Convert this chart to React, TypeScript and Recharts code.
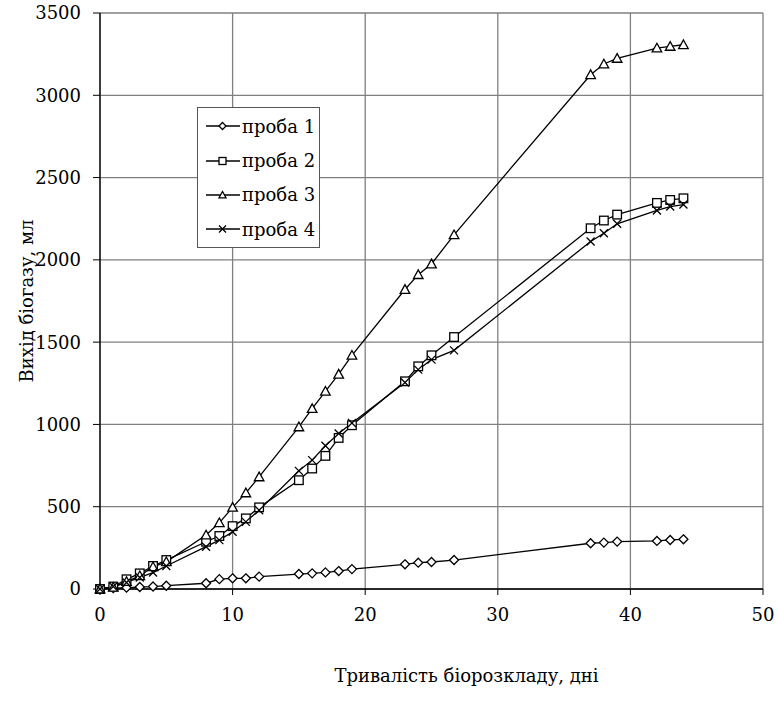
import { LineChart, Line, XAxis, YAxis, CartesianGrid, Legend, Label } from 'recharts';

const DAYS = [0, 1, 2, 3, 4, 5, 8, 9, 10, 11, 12, 15, 16, 17, 18, 19, 23, 24, 25, 26.7, 37, 38, 39, 42, 43, 44];
const PROBA_1 = [0, 5, 8, 12, 15, 20, 35, 60, 65, 65, 75, 91, 95, 101, 109, 121, 150, 160, 164, 176, 278, 282, 288, 292, 298, 302];
const PROBA_2 = [0, 15, 59, 95, 140, 176, 287, 322, 382, 429, 496, 661, 732, 809, 918, 995, 1262, 1353, 1420, 1531, 2192, 2239, 2275, 2346, 2364, 2374];
const PROBA_3 = [0, 10, 45, 80, 135, 165, 328, 402, 496, 584, 681, 985, 1096, 1201, 1305, 1420, 1820, 1910, 1975, 2152, 3125, 3190, 3224, 3287, 3297, 3307];
const PROBA_4 = [0, 15, 40, 70, 100, 140, 257, 297, 348, 408, 479, 718, 783, 870, 945, 1009, 1255, 1333, 1394, 1450, 2112, 2162, 2219, 2300, 2324, 2336];

const SERIES_NAMES = ['проба 1', 'проба 2', 'проба 3', 'проба 4'];
const X_TICKS = [0, 10, 20, 30, 40, 50];
const Y_TICKS = [0, 500, 1000, 1500, 2000, 2500, 3000, 3500];

const X_TITLE = 'Тривалість біорозкладу, дні';
const Y_TITLE = 'Вихід біогазу, мл';

const FONT = "DejaVu Serif, serif";

const data = DAYS.map((d, i) => ({
  day: d,
  p1: PROBA_1[i],
  p2: PROBA_2[i],
  p3: PROBA_3[i],
  p4: PROBA_4[i],
}));

type Shape = 'diamond' | 'square' | 'triangle' | 'cross';
const SHAPES: Shape[] = ['diamond', 'square', 'triangle', 'cross'];

function Marker({ shape, cx, cy, r }: { shape: Shape; cx: number; cy: number; r: number }) {
  const common = { fill: '#fff', stroke: '#000', strokeWidth: 1.3 };
  if (shape === 'diamond') {
    return <path d={`M${cx},${cy - r}L${cx + r},${cy}L${cx},${cy + r}L${cx - r},${cy}Z`} {...common} />;
  }
  if (shape === 'square') {
    return <rect x={cx - r} y={cy - r} width={2 * r} height={2 * r} {...common} />;
  }
  if (shape === 'triangle') {
    return <path d={`M${cx},${cy - r}L${cx + r},${cy + r * 0.8}L${cx - r},${cy + r * 0.8}Z`} {...common} />;
  }
  return (
    <path
      d={`M${cx - r},${cy - r}L${cx + r},${cy + r}M${cx + r},${cy - r}L${cx - r},${cy + r}`}
      stroke="#000"
      strokeWidth={1.3}
      fill="none"
    />
  );
}

const makeDot = (shape: Shape, r: number) => (props: any) => {
  const { cx, cy, index } = props;
  if (cx == null || cy == null) return <g key={`${shape}-${index}`} />;
  return (
    <g key={`${shape}-${index}`}>
      <Marker shape={shape} cx={cx} cy={cy} r={r} />
    </g>
  );
};

function LegendBox() {
  return (
    <div
      style={{
        boxSizing: 'border-box',
        width: 123,
        border: '1px solid #555',
        background: '#fff',
        padding: '1px 0 0 8px',
        fontFamily: FONT,
        fontSize: 18,
        color: '#000',
      }}
    >
      {SERIES_NAMES.map((name, i) => (
        <div key={name} style={{ display: 'flex', alignItems: 'center', height: 34.4 }}>
          <svg width={35} height={14} style={{ display: 'block' }}>
            <line x1={0} y1={7} x2={34} y2={7} stroke="#000" strokeWidth={1.3} />
            <Marker shape={SHAPES[i]} cx={16.5} cy={7} r={3.5} />
          </svg>
          <span style={{ marginLeft: 1, whiteSpace: 'nowrap' }}>{name}</span>
        </div>
      ))}
    </div>
  );
}

export default function App() {
  const tick = { fontSize: 18, fill: '#000', fontFamily: FONT };
  return (
    <div style={{ position: 'absolute', left: 0, top: 0, background: '#fff', fontFamily: FONT }}>
      <LineChart width={778} height={701} data={data} margin={{ top: 13, right: 15, bottom: 0, left: 0 }}>
        <CartesianGrid stroke="#808080" strokeWidth={1.3} vertical horizontal />
        <XAxis
          dataKey="day"
          type="number"
          domain={[0, 50]}
          ticks={X_TICKS}
          height={112}
          tick={tick}
          tickSize={6}
          tickMargin={13}
          axisLine={{ stroke: '#000', strokeWidth: 1.3 }}
          tickLine={{ stroke: '#000' }}
        >
          <Label
            content={({ viewBox }: any) => (
              <text
                x={viewBox.x + viewBox.width / 2 + 35}
                y={682}
                textAnchor="middle"
                fontFamily={FONT}
                fontSize={18}
                fill="#000"
              >
                {X_TITLE}
              </text>
            )}
          />
        </XAxis>
        <YAxis
          type="number"
          domain={[0, 3500]}
          ticks={Y_TICKS}
          width={100}
          tick={tick}
          tickSize={7}
          tickMargin={12}
          axisLine={{ stroke: '#000', strokeWidth: 1.3 }}
          tickLine={{ stroke: '#000' }}
        >
          <Label
            content={({ viewBox }: any) => {
              const cy = viewBox.y + viewBox.height / 2;
              return (
                <text
                  x={33}
                  y={cy}
                  transform={`rotate(-90, 33, ${cy})`}
                  textAnchor="middle"
                  fontFamily={FONT}
                  fontSize={18}
                  fill="#000"
                >
                  {Y_TITLE}
                </text>
              );
            }}
          />
        </YAxis>
        <Legend
          layout="vertical"
          align="center"
          verticalAlign="middle"
          content={() => <LegendBox />}
          wrapperStyle={{ left: 197, top: 107, width: 123 }}
        />
        <Line dataKey="p1" name={SERIES_NAMES[0]} stroke="#000" strokeWidth={1.3} dot={makeDot('diamond', 4.5)} activeDot={false} isAnimationActive={false} />
        <Line dataKey="p2" name={SERIES_NAMES[1]} stroke="#000" strokeWidth={1.3} dot={makeDot('square', 4.3)} activeDot={false} isAnimationActive={false} />
        <Line dataKey="p3" name={SERIES_NAMES[2]} stroke="#000" strokeWidth={1.3} dot={makeDot('triangle', 4.8)} activeDot={false} isAnimationActive={false} />
        <Line dataKey="p4" name={SERIES_NAMES[3]} stroke="#000" strokeWidth={1.3} dot={makeDot('cross', 4)} activeDot={false} isAnimationActive={false} />
      </LineChart>
    </div>
  );
}
